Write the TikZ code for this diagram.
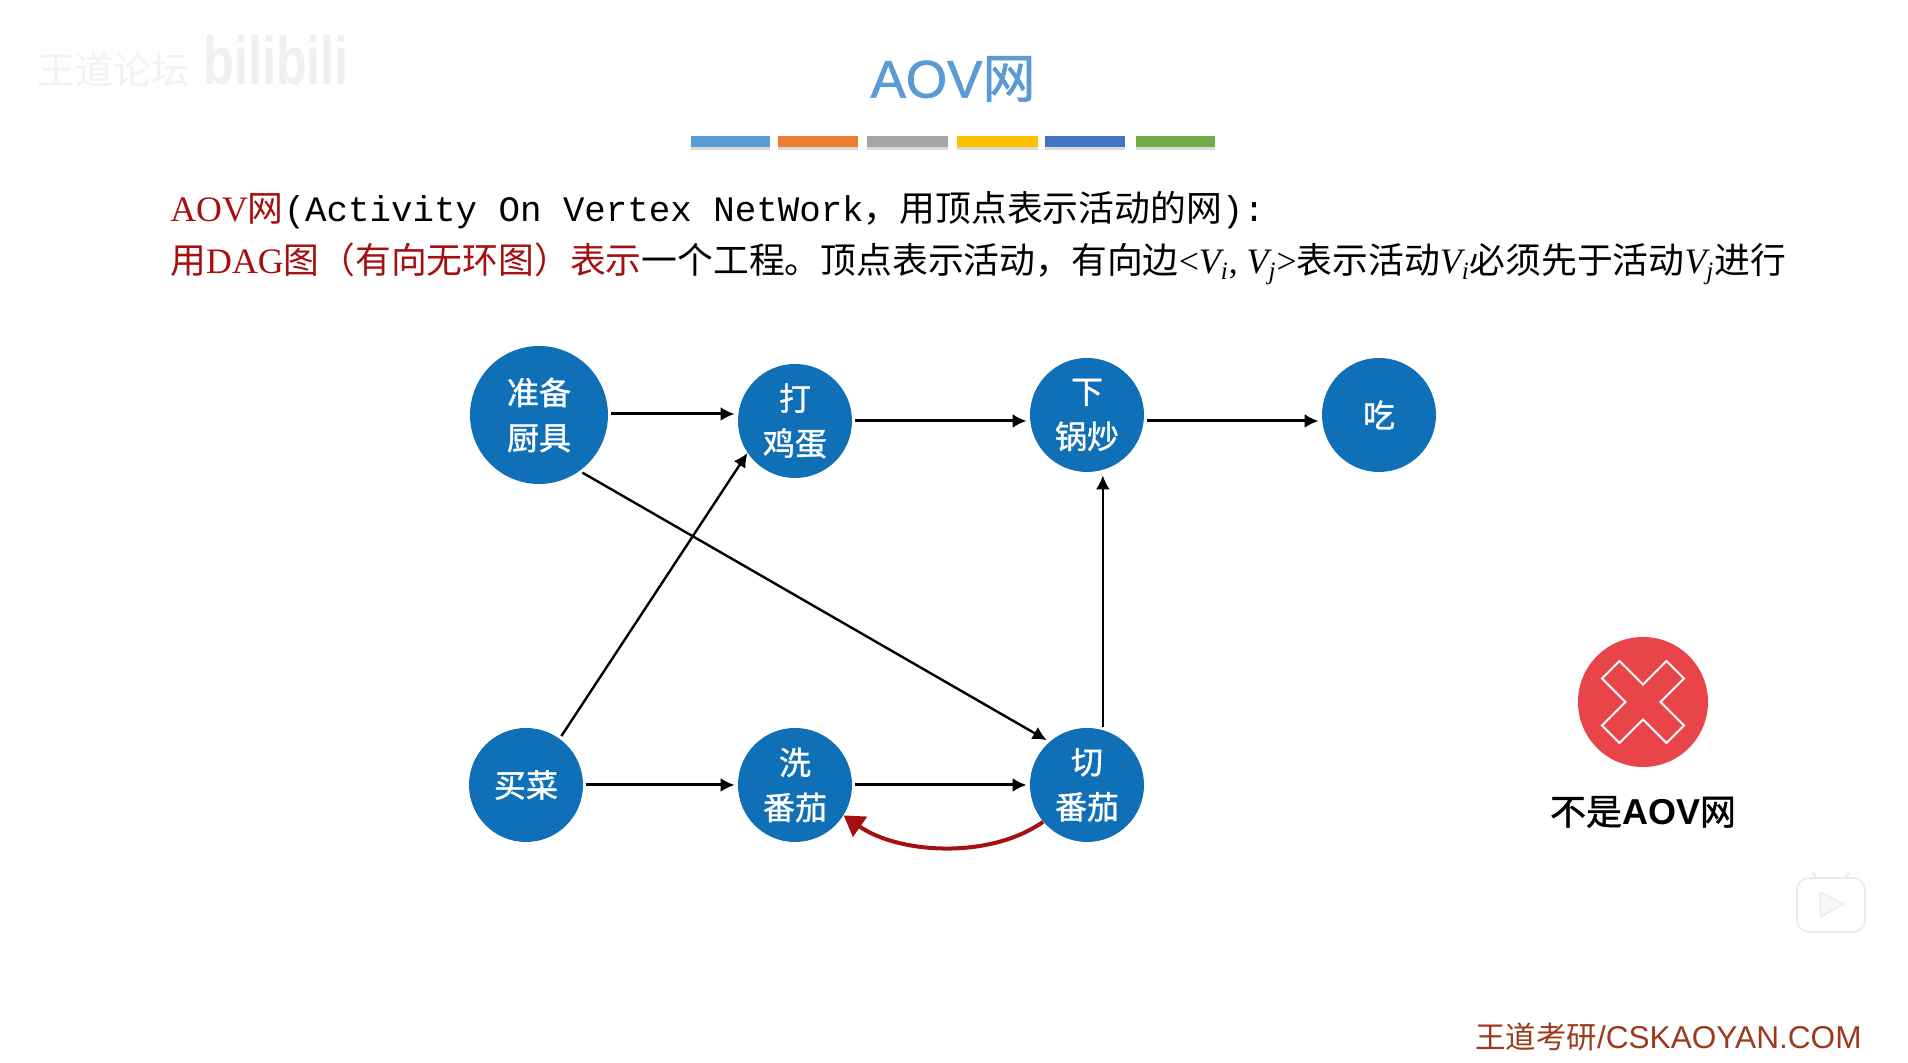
\documentclass[tikz,border=0pt]{standalone}
\usepackage{fontspec}
\usepackage{xcolor}
\usetikzlibrary{arrows.meta}
\setmainfont{Liberation Serif}
\setsansfont{Liberation Sans}
\setmonofont{Liberation Mono}
\newfontfamily\cjk{Noto Sans CJK SC}
\newfontfamily\cjkmed[RawFeature={embolden=1.2}]{Noto Sans CJK SC}
\newfontfamily\sansmed[RawFeature={embolden=1.2}]{Liberation Sans}

\definecolor{nodeblue}{HTML}{0F70B7}
\definecolor{titleblue}{HTML}{5B9BD5}
\definecolor{darkred}{HTML}{A50F0F}
\definecolor{crossred}{HTML}{E8444A}
\definecolor{footred}{HTML}{9C3A1C}

\newcommand{\vsub}[1]{{\itshape V\textsubscript{#1}}}

\tikzset{
  vertex/.style={circle, fill=nodeblue, text=white, inner sep=0, minimum size=57pt, align=center,
    font=\cjkmed\fontsize{16}{22.5}\selectfont},
  link/.style={black, line width=1.5pt, -{Latex[length=7pt,width=7pt]}, shorten >=1.5pt, shorten <=1.5pt},
  textline/.style={anchor=base west, inner sep=0, font=\fontsize{17.9}{20}\selectfont}
}

\begin{document}
\begin{tikzpicture}[x=0.5pt, y=0.5pt]

\path[fill=white, use as bounding box] (0,0) rectangle (1908,1063);

% watermark
\node[inner sep=0, text=black!5, font=\cjk\fontsize{19}{20}\selectfont] (markcn) at (114,993) {王道论坛};
\node[inner sep=0, text=black!6, xscale=0.74, font=\sffamily\bfseries\fontsize{34}{36}\selectfont, transform shape] (markbili) at (276,1003) {bilibili};

% title and bars
\node[text=titleblue, inner sep=0, font=\sansmed\fontsize{26.5}{28}\selectfont] (title) at (953,984) {AOV{\cjkmed 网}};

\foreach \xa/\xb/\col in {691/770/5B9BD5, 778/858/ED7D31, 867/948/A5A5A5, 957/1038/FFC000, 1045/1125/4472C4, 1136/1215/70AD47} {
  \definecolor{barcol}{HTML}{\col}
  \fill[black!14] (\xa,913) rectangle (\xb,922);
  \fill[barcol] (\xa,916) rectangle (\xb,927);
}

% text
\node[textline] (lineone) at (170,841) {\textcolor{darkred}{AOV{\cjk 网}}{\ttfamily (Activity On Vertex NetWork}{\cjk ，用顶点表示活动的网}{\ttfamily ):}};
\node[textline] (linetwo) at (170,789) {\textcolor{darkred}{{\cjk 用}DAG{\cjk 图（有向无环图）表示}}{\cjk 一个工程。顶点表示活动，有向边}<\vsub{i}, \vsub{j}>{\cjk 表示活动}\vsub{i}{\cjk 必须先于活动}\vsub{j}{\cjk 进行}};

% vertices
\node[vertex, minimum size=69pt] (cook) at (539,648) {准备\\厨具};
\node[vertex] (egg)  at (795,642) {打\\鸡蛋};
\node[vertex] (fry)  at (1087,648) {下\\锅炒};
\node[vertex] (eat)  at (1379,648) {吃};
\node[vertex] (buy)  at (526,278) {买菜};
\node[vertex] (wash) at (795,278) {洗\\番茄};
\node[vertex] (cut)  at (1087,278) {切\\番茄};

% edges
\draw[link] (cook.east |- 0,649) -- (egg.west |- 0,649);
\draw[link] (egg.east) -- (fry.west |- egg.east);
\draw[link] (fry.east |- egg.east) -- (eat.west |- egg.east);
\draw[link] (buy.east) -- (wash.west);
\draw[link] (wash.east) -- (cut.west);
\draw[link, line width=1.2pt, shorten >=0pt] (buy.54) -- (egg.214);
\draw[link, line width=1.2pt] (cook.-54) -- (cut.131);
\draw[link, line width=1.2pt] (cut.74) -- (cut.74 |- fry.south);
\draw[darkred, line width=2pt, -{Triangle[length=10pt,width=12pt]}] (cut.220) to[out=215, in=-35, looseness=0.85] (wash.-32);

% not an AOV net
\node[circle, fill=crossred, inner sep=0, minimum size=65pt] (wrong) at (1643,361) {};
\draw[white, line width=1pt, shift={(wrong.center)}, rotate=45]
  (-12.4,12.4) -- (-12.4,45.6) -- (12.4,45.6) -- (12.4,12.4) -- (45.6,12.4) -- (45.6,-12.4) -- (12.4,-12.4)
  -- (12.4,-45.6) -- (-12.4,-45.6) -- (-12.4,-12.4) -- (-45.6,-12.4) -- (-45.6,12.4) -- cycle;
\node[inner sep=0, font=\fontsize{18}{20}\selectfont] (wronglabel) at (1643,251) {{\cjkmed 不是}{\sffamily\bfseries AOV}{\cjkmed 网}};

% player icon
\draw[black!8, line width=1pt, line cap=round] (1813,190) -- (1821,180) (1849,190) -- (1841,180);
\draw[black!8, fill=white, line width=0.8pt, rounded corners=6pt] (1797,131) rectangle (1865,185);
\draw[black!10, fill=black!3, line width=0.5pt, line join=round] (1820,171) -- (1844,159) -- (1820,146) -- cycle;

% footer
\node[anchor=east, inner sep=0, text=footred, font=\sffamily\fontsize{15.8}{18}\selectfont] (footer) at (1862,26) {{\cjk\fontsize{15.2}{18}\selectfont 王道考研}/CSKAOYAN.COM};

\end{tikzpicture}
\end{document}
